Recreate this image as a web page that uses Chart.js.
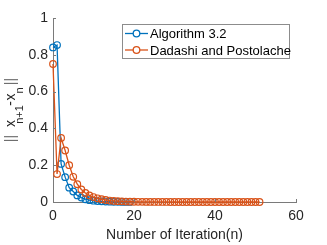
<!DOCTYPE html>
<html>
<head>
<meta charset="utf-8">
<script src="https://cdn.jsdelivr.net/npm/chart.js@4"></script>
<style>
  html, body { margin: 0; padding: 0; background: #fff; }
  #wrap { width: 327px; height: 245px; }
</style>
</head>
<body>
<div id="wrap"><canvas id="chart" width="327" height="245"></canvas></div>
<script>
// values
const algoValues = [0.840, 0.853, 0.207, 0.135, 0.078, 0.057, 0.036, 0.024, 0.015, 0.010,
    0.007, 0.005, 0.0035, 0.0025, 0.0018, 0.0012, 0.0008, 0.0005, 0.0003, 0.0002];
const dadashiValues = [0.750, 0.152, 0.348, 0.280, 0.200, 0.137, 0.097, 0.068, 0.049, 0.036,
    0.027, 0.020, 0.015, 0.011, 0.008, 0.006, 0.0045, 0.0034, 0.0025, 0.0019,
    0.0014, 0.0011, 0.0008, 0.0006, 0.0005, 0.0004, 0.0003, 0.0002, 0.0002, 0.0001,
    0.0001, 0.0001, 0.0001, 0.0001, 0.0001, 0.0001, 0.0001, 0.0001, 0.0001, 0.0001,
    0.0001, 0.0001, 0.0001, 0.0001, 0.0001, 0.0001, 0.0001, 0.0001, 0.0001, 0.0001,
    0.0001, 0.0001];
const seriesNames = ['Algorithm 3.2', 'Dadashi and Postolache'];
const xTicks = [0, 20, 40, 60];
const yTicks = [0, 0.2, 0.4, 0.6, 0.8, 1];

const BLUE = '#0072BD';
const ORANGE = '#D95319';
const AXIS = '#262626';
const LINE = '#7a7a7a';
const FONT = '"Liberation Sans", Arial, sans-serif';

const toPoints = arr => arr.map((v, i) => ({ x: i, y: v }));

// inward ticks, matlab-like
const tickPlugin = {
    id: 'ticks',
    afterDraw(chart) {
        const { ctx, chartArea, scales } = chart;
        ctx.save();
        ctx.strokeStyle = LINE;
        ctx.lineWidth = 1;
        ctx.beginPath();
        xTicks.forEach(t => {
            const px = Math.round(scales.x.getPixelForValue(t)) + 0.5;
            ctx.moveTo(px, chartArea.bottom);
            ctx.lineTo(px, chartArea.bottom - 3);
        });
        yTicks.forEach(t => {
            const py = Math.round(scales.y.getPixelForValue(t)) + 0.5;
            ctx.moveTo(chartArea.left, py);
            ctx.lineTo(chartArea.left + 3, py);
        });
        ctx.stroke();
        ctx.restore();
    }
};

// y label ||x_{n+1}-x_n||, pieces placed along the rotated line
// [text, subscript?, offset from the label centre (px, upwards positive)]
const yLabelPlugin = {
    id: 'ylabel',
    afterDraw(chart) {
        const { ctx, chartArea } = chart;
        const parts = [
            ['||', false, -28.5], ['x', false, -13.5], ['n+1', true, -4.5],
            ['-', false, 6.5], ['x', false, 13], ['n', true, 19.5], ['||', false, 28.5]
        ];
        const mid = (chartArea.top + chartArea.bottom) / 2;
        ctx.save();
        ctx.textAlign = 'center';
        ctx.textBaseline = 'alphabetic';
        ctx.translate(0, mid);
        ctx.rotate(-Math.PI / 2);
        parts.forEach(p => {
            ctx.font = (p[1] ? '11px ' : '14px ') + FONT;
            ctx.fillStyle = p[0] === '||' ? '#6e6e6e' : AXIS;
            ctx.fillText(p[0], p[2], p[1] ? 23 : 15);
        });
        ctx.restore();
    }
};

// boxed legend inside the plot
const legendPlugin = {
    id: 'boxLegend',
    afterDraw(chart) {
        const { ctx } = chart;
        const colors = [BLUE, ORANGE];
        ctx.save();
        ctx.fillStyle = '#fff';
        ctx.fillRect(122.5, 24.5, 167, 34);
        ctx.strokeStyle = '#8c8c8c';
        ctx.lineWidth = 1;
        ctx.strokeRect(122.5, 24.5, 167, 34);
        ctx.font = '13px ' + FONT;
        ctx.textAlign = 'left';
        ctx.textBaseline = 'middle';
        seriesNames.forEach((name, i) => {
            const y = 33.5 + i * 16.5;
            ctx.strokeStyle = colors[i];
            ctx.lineWidth = 1.3;
            ctx.beginPath();
            ctx.moveTo(125, y);
            ctx.lineTo(148, y);
            ctx.stroke();
            ctx.beginPath();
            ctx.arc(136.5, y, 3.3, 0, Math.PI * 2);
            ctx.fillStyle = '#fff';
            ctx.fill();
            ctx.stroke();
            ctx.fillStyle = '#000';
            ctx.fillText(name, 150, y + 1);
        });
        ctx.restore();
    }
};

new Chart(document.getElementById('chart'), {
    type: 'line',
    data: {
        datasets: [
            {
                label: seriesNames[0],
                data: toPoints(algoValues),
                order: 2,
                borderColor: BLUE,
                borderWidth: 1.3,
                pointRadius: 3.3,
                pointBorderWidth: 1.2,
                pointBorderColor: BLUE,
                pointBackgroundColor: 'rgba(0,0,0,0)',
                tension: 0
            },
            {
                label: seriesNames[1],
                data: toPoints(dadashiValues),
                order: 1,
                borderColor: ORANGE,
                borderWidth: 1.3,
                pointRadius: 3.3,
                pointBorderWidth: 1.2,
                pointBorderColor: ORANGE,
                pointBackgroundColor: 'rgba(0,0,0,0)',
                tension: 0
            }
        ]
    },
    options: {
        responsive: false,
        animation: false,
        clip: false,
        layout: { padding: { left: 0, right: 31, top: 18, bottom: 0 } },
        plugins: { legend: { display: false }, tooltip: { enabled: false } },
        scales: {
            x: {
                type: 'linear',
                min: 0, max: 60,
                afterBuildTicks: s => { s.ticks = xTicks.map(v => ({ value: v })); },
                grid: { display: false, drawTicks: false },
                border: { display: true, color: LINE, width: 1 },
                ticks: { color: AXIS, font: { family: FONT, size: 14 }, padding: 6, maxRotation: 0 },
                title: {
                    display: true, text: 'Number of Iteration(n)', color: AXIS,
                    font: { family: FONT, size: 14 }, padding: { top: 1, bottom: 1 }
                },
                afterFit: s => { s.height = 43; }
            },
            y: {
                min: 0, max: 1,
                afterBuildTicks: s => { s.ticks = yTicks.map(v => ({ value: v })); },
                grid: { display: false, drawTicks: false },
                border: { display: true, color: LINE, width: 1 },
                ticks: { color: AXIS, font: { family: FONT, size: 14 }, padding: 5,
                    callback: v => String(Math.round(v * 10) / 10) },
                afterFit: s => { s.width = 53; }
            }
        }
    },
    plugins: [tickPlugin, yLabelPlugin, legendPlugin]
});
</script>
</body>
</html>
